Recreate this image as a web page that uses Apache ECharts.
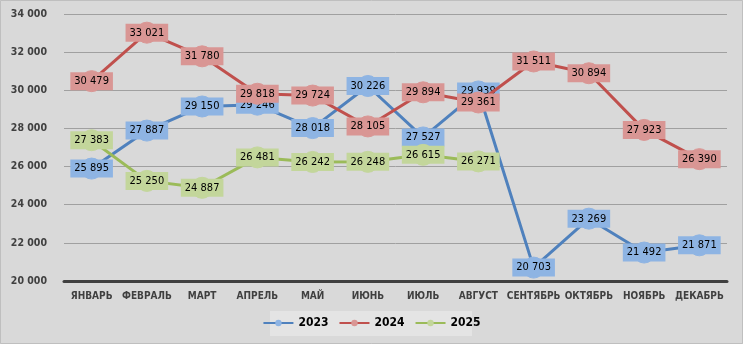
<!DOCTYPE html>
<html><head><meta charset="utf-8">
<script src="https://cdn.jsdelivr.net/npm/echarts@6/dist/echarts.min.js"></script>
<style>html,body{margin:0;padding:0;background:#d9d9d9;}#c{width:743px;height:344px;}</style>
</head><body><div id="c"></div>
<script>
const categories = ['ЯНВАРЬ','ФЕВРАЛЬ','МАРТ','АПРЕЛЬ','МАЙ','ИЮНЬ','ИЮЛЬ','АВГУСТ','СЕНТЯБРЬ','ОКТЯБРЬ','НОЯБРЬ','ДЕКАБРЬ'];
const s2023 = [25895,27887,29150,29246,28018,30226,27527,29939,20703,23269,21492,21871];
const s2024 = [30479,33021,31780,29818,29724,28105,29894,29361,31511,30894,27923,26390];
const s2025 = [27383,25250,24887,26481,26242,26248,26615,26271];
const seriesNames = ['2023','2024','2025'];

const fmt = v => String(v).replace(/\B(?=(\d{3})+(?!\d))/g, ' ');
const FONT = '"Liberation Sans Narrow", "DejaVu Sans Condensed", "Arial Narrow", sans-serif';
const lineColors = ['#4f81bd','#c0504d','#9bbb59'];
const lightColors = ['#8eb4e3','#d99694','#c3d69b'];
const datas = [s2023, s2024, s2025];

const chart = echarts.init(document.getElementById('c'));
chart.setOption({
  backgroundColor: '#d9d9d9',
  animation: false,
  graphic: [
    {type:'rect', shape:{x:0.5,y:0.5,width:742,height:343}, style:{fill:'none', stroke:'#bfbfbf', lineWidth:1}, silent:true},
    {type:'rect', shape:{x:270,y:311,width:202,height:25}, style:{fill:'#e4e4e4'}, silent:true, z:-1}
  ],
  grid: {left: 64, right: 16, top: 14, bottom: 63},
  legend: {
    data: seriesNames, bottom: 10, left: 'center', itemWidth: 30, itemHeight: 8, itemGap: 10,
    textStyle: {fontFamily: FONT, fontSize: 12, fontWeight: 'bold', color: '#000'}
  },
  xAxis: {
    type: 'category', data: categories, boundaryGap: true,
    axisLine: {lineStyle: {color: '#404040', width: 3}},
    axisTick: {show: false},
    axisLabel: {interval: 0, fontFamily: FONT, fontSize: 10, fontWeight: 'bold', color: '#404040', margin: 10}
  },
  yAxis: {
    type: 'value', min: 20000, max: 34000, interval: 2000,
    axisLine: {show: false}, axisTick: {show: false},
    axisLabel: {fontFamily: FONT, fontSize: 10.5, fontWeight: 'bold', color: '#404040', formatter: fmt, margin: 17},
    splitLine: {lineStyle: {color: '#a0a0a0', width: 1}}
  },
  series: datas.map((d, i) => ({
    name: seriesNames[i], type: 'line', data: d, color: lineColors[i],
    symbol: 'circle', symbolSize: 21,
    lineStyle: {color: lineColors[i], width: 3},
    itemStyle: {color: lightColors[i], borderColor: lightColors[i]},
    label: {
      show: true, position: 'inside', formatter: p => fmt(p.value),
      fontFamily: FONT, fontSize: 11, color: '#000',
      backgroundColor: lightColors[i], padding: [4, 4, 3, 4]
    },
    z: 2 + i
  }))
});
</script></body></html>
